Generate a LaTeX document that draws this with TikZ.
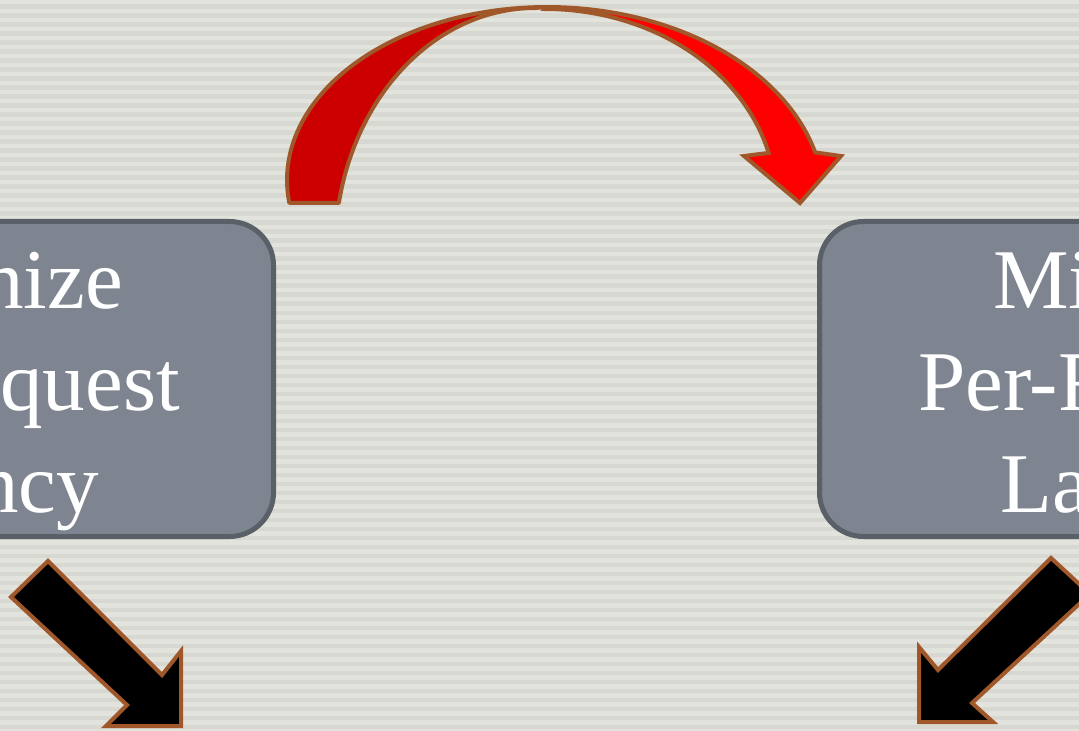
\documentclass[tikz,border=0pt]{standalone}
\usepackage{fontspec}
\setmainfont{Liberation Serif}
\usepackage{tikz}

\definecolor{bgbase}{HTML}{D7D8D1}
\definecolor{bgstripe}{HTML}{E2E3DD}
\definecolor{boxfill}{HTML}{7F8590}
\definecolor{boxline}{HTML}{5A6068}
\definecolor{rimbrown}{HTML}{A0582A}
\definecolor{darkred}{HTML}{CC0000}

\begin{document}
\begin{tikzpicture}[x=0.75pt, y=-0.75pt,
    goalbox/.style={fill=boxfill, draw=boxline, line width=3.75pt, rounded corners=33pt},
    goaltext/.style={text=white, inner sep=0pt, font=\fontsize{63.75}{76.5}\selectfont},
    bigarrow/.style={draw=rimbrown, line width=3pt, line join=miter}]
        \useasboundingbox (0, 0) rectangle (1079, 731);
        \clip (0, 0) rectangle (1079, 731);
        \fill[bgbase] (0, 0) rectangle (1079, 731);
        \foreach \s in {0, 9, ..., 729}
        \fill[bgstripe] (0, \s) rectangle (1079, \s + 4.5);

        % the two goal boxes, cut by the frame
        \draw[goalbox] (-220, 221.5) rectangle (273.5, 536.5);
        \draw[goalbox] (819.5, 221.5) rectangle (1320, 536.5);
        \node[goaltext, anchor=base east] (lefttop) at (123, 308) {nize};
        \node[goaltext, anchor=base east] (leftmid) at (180, 410) {quest};
        \node[goaltext, anchor=base east] (leftlow) at (99, 512) {ncy};
        \node[goaltext, anchor=base west] (righttop) at (993, 308) {Mi};
        \node[goaltext, anchor=base west] (rightmid) at (918, 410) {Per-R};
        \node[goaltext, anchor=base west] (rightlow) at (1000, 512) {La};

        % curved arrow over the top
        \filldraw[bigarrow, fill=darkred, line join=round]
        plot[domain=187.6:90, samples=50] ({547 + 260 * cos(\x)}, {180 - 173 * sin(\x)})
        -- plot[domain=90:168.8, samples=50] ({535 + 200 * cos(\x)}, {250 - 242 * sin(\x)})
        -- cycle;
        \filldraw[bigarrow, fill=red]
        plot[domain=90:14.5, samples=50] ({547 + 277 * cos(\x)}, {201 - 194 * sin(\x)})
        -- (841, 156) -- (800, 203) -- (744, 156)
        -- plot[domain=14.5:90, samples=50] ({545 + 231 * cos(\x)}, {201 - 192 * sin(\x)})
        -- cycle;

        % black arrows below the boxes
        \filldraw[bigarrow, fill=black] (48, 561) -- (162, 675) -- (181, 651)
        -- (181, 726) -- (106, 726) -- (127, 705) -- (11, 597) -- cycle;
        \filldraw[bigarrow, fill=black] (1051, 558) -- (1090, 594) -- (972, 703)
        -- (993, 722) -- (919, 722) -- (919, 647) -- (938, 670) -- cycle;
      \end{tikzpicture}
\end{document}
